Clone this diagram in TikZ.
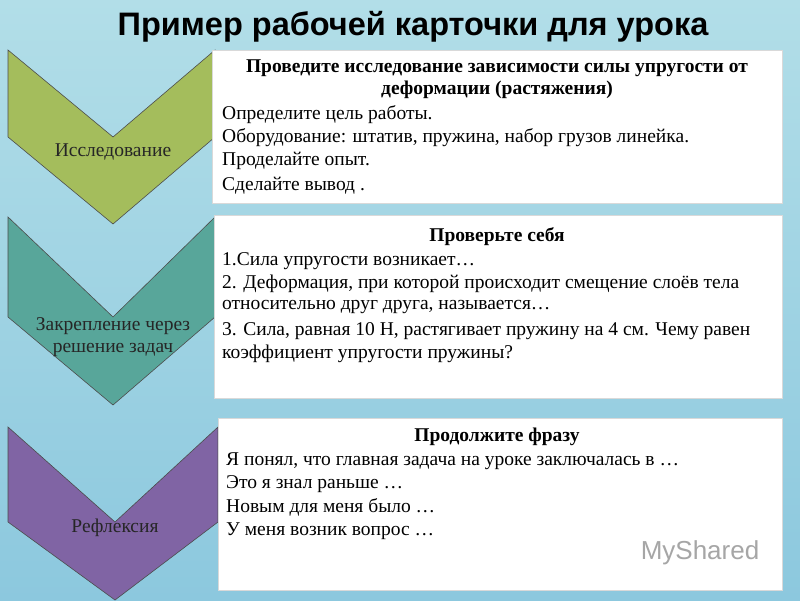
\documentclass[tikz,border=0pt]{standalone}
\usepackage{fontspec}
\setmainfont{Liberation Serif}
\newfontfamily\sansf{Liberation Sans}
\begin{document}
\begin{tikzpicture}[x=1pt,y=-1pt,
  chev/.style={draw=black!70,line width=0.6pt},
  card/.style={fill=white,draw=black!15},
  lab/.style={font=\fontsize{19.5}{22}\selectfont,align=center,text=black!85},
  line/.style={anchor=west,font=\fontsize{19.5}{22}\selectfont,inner sep=0pt},
  head/.style={anchor=center,font=\bfseries\fontsize{19.5}{22}\selectfont,inner sep=0pt}]
\shade[top color={rgb,255:red,178;green,222;blue,232},bottom color={rgb,255:red,140;green,200;blue,222}] (0,0) rectangle (800,600);
\useasboundingbox (0,0) rectangle (800,600);
\node[font=\sansf\bfseries\fontsize{32.5}{34}\selectfont] (title) at (413,27) {Пример рабочей карточки для урока};
% chevrons
\draw[chev,fill={rgb,255:red,164;green,189;blue,92}] (8,50) -- (113,137) -- (215,50) -- (215,137) -- (113,224) -- (8,137) -- cycle;
\draw[chev,fill={rgb,255:red,88;green,166;blue,154}] (8,217) -- (113,317) -- (215,217) -- (215,317) -- (113,405) -- (8,317) -- cycle;
\draw[chev,fill={rgb,255:red,128;green,100;blue,164}] (8,427) -- (115,522) -- (218,427) -- (218,522) -- (115,600) -- (8,522) -- cycle;
\node[lab] (c1) at (113,152) {Исследование};
\node[lab] (c2) at (113,337) {Закрепление через\\решение задач};
\node[lab] (c3) at (115,528) {Рефлексия};
% cards
\draw[card] (212,50) rectangle (782,203);
\draw[card] (214,215) rectangle (782,398);
\draw[card] (218,418) rectangle (782,590);
\node[head] (h1a) at (497,68) {Проведите исследование зависимости силы упругости от};
\node[head] (h1b) at (497,90) {деформации (растяжения)};
\node[line] (l11) at (222,115) {Определите цель работы.};
\node[line] (l12) at (222,138) {Оборудование: штатив, пружина, набор грузов линейка.};
\node[line] (l13) at (222,161) {Проделайте опыт.};
\node[line] (l14) at (222,186) {Сделайте вывод~.};
\node[head] (h2) at (497,237) {Проверьте себя};
\node[line] (l21) at (222,261) {1.Сила упругости возникает…};
\node[line] (l22) at (222,284) {2. Деформация, при которой происходит смещение слоёв тела};
\node[line] (l23) at (222,307) {относительно друг друга, называется…};
\node[line] (l24) at (222,331) {3. Сила, равная 10 Н, растягивает пружину на 4 см. Чему равен};
\node[line] (l25) at (222,354) {коэффициент упругости пружины?};
\node[head] (h3) at (497,437) {Продолжите фразу};
\node[line] (l31) at (226,461) {Я понял, что главная задача на уроке заключалась в …};
\node[line] (l32) at (226,484) {Это я знал раньше …};
\node[line] (l33) at (226,507) {Новым для меня было …};
\node[line] (l34) at (226,531) {У меня возник вопрос …};
\node[font=\sansf\fontsize{26}{28}\selectfont,text=black!35] (wm) at (700,553) {MyShared};
\end{tikzpicture}
\end{document}
